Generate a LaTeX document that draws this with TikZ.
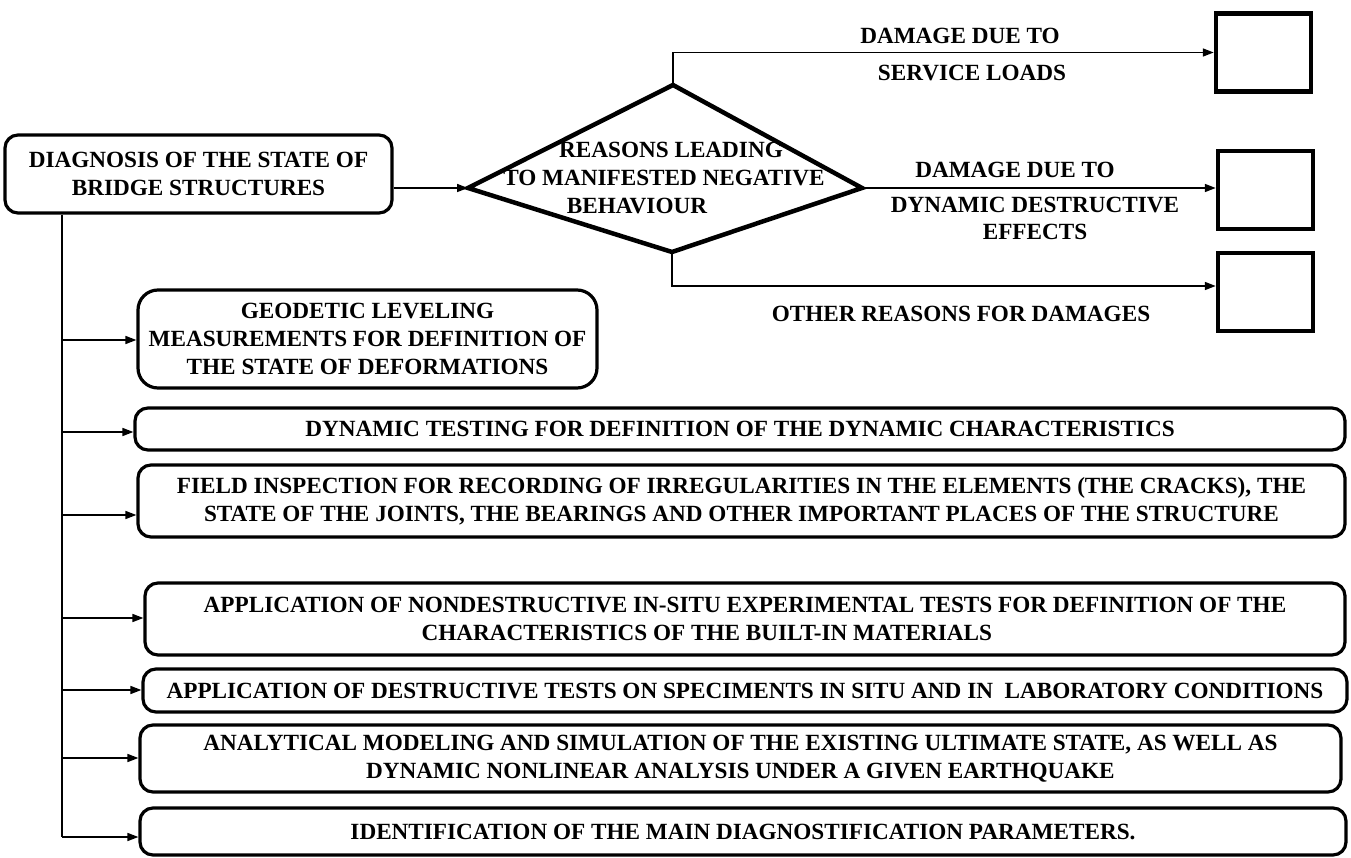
\documentclass[tikz,border=0pt]{standalone}
\usepackage{fontspec}
\setmainfont{Liberation Serif}
\usetikzlibrary{arrows.meta}
\begin{document}
\begin{tikzpicture}[x=1pt,y=-1pt,
  every node/.style={font=\fontsize{23.2}{28}\selectfont\bfseries, inner sep=0pt},
  rbox/.style={draw, line width=3.2pt, rounded corners=13pt, align=center},
  sqbox/.style={draw, line width=4.5pt, minimum width=95pt, minimum height=78pt},
  conn/.style={line width=1.6pt},
  arr/.style={conn, -{Triangle[length=11pt,width=8pt]}},
  diam/.style={line width=4.5pt, line join=miter}]
\useasboundingbox (0,0) rectangle (1351,858);

% main box
\node[rbox, minimum width=387pt, minimum height=78pt] (main) at (198.5,174)
  {DIAGNOSIS OF THE STATE OF\\BRIDGE STRUCTURES};

% diamond
\coordinate (dL) at (468,188);
\coordinate (dT) at (673,85);
\coordinate (dR) at (862,188);
\coordinate (dB) at (672,252);
\draw[diam] (dL) -- (dT) -- (dR) -- (dB) -- cycle;
\node[align=center] (dtext) at (664,178)
  {\hspace*{14pt}REASONS LEADING\\TO MANIFESTED NEGATIVE\\BEHAVIOUR\hspace*{54pt}};

% right boxes
\node[sqbox] (b1) at (1263.5,52.5) {};
\node[sqbox] (b2) at (1265.5,190) {};
\node[sqbox] (b3) at (1265.5,292) {};

\coordinate (y3) at (0,286);
\draw[arr] (main.east |- dL) -- (dL);
\draw[arr] (dT) |- (b1.west);
\draw[arr] (dR) -- (dR -| b2.west);
\draw[arr] (dB) |- (b3.west |- y3);

% branch labels
\node (l1a) at (960,36) {DAMAGE DUE TO};
\node (l1b) at (972,73) {SERVICE LOADS};
\node (l2a) at (1015,170) {DAMAGE DUE TO};
\node (l2b) at (1035,205) {DYNAMIC DESTRUCTIVE};
\node (l2c) at (1035,232) {EFFECTS};
\node (l3a) at (961,314) {OTHER REASONS FOR DAMAGES};

% left boxes
\node[rbox, rounded corners=20pt, minimum width=459pt, minimum height=98pt] (g) at (367.5,339)
  {GEODETIC LEVELING\\MEASUREMENTS FOR DEFINITION OF\\THE STATE OF DEFORMATIONS};
\node[rbox, minimum width=1210pt, minimum height=42pt] (d) at (740,429)
  {DYNAMIC TESTING FOR DEFINITION OF THE DYNAMIC CHARACTERISTICS};
\node[rbox, minimum width=1207pt, minimum height=72pt] (f) at (741.5,501)
  {FIELD INSPECTION FOR RECORDING OF IRREGULARITIES IN THE ELEMENTS (THE CRACKS), THE\\STATE OF THE JOINTS, THE BEARINGS AND OTHER IMPORTANT PLACES OF THE STRUCTURE};
\node[rbox, align=left, minimum width=1200pt, minimum height=72pt] (n) at (745,619)
  {APPLICATION OF NONDESTRUCTIVE IN-SITU EXPERIMENTAL TESTS FOR DEFINITION OF THE\\\hspace*{218pt}CHARACTERISTICS OF THE BUILT-IN MATERIALS};
\node[rbox, minimum width=1204pt, minimum height=43pt] (x) at (745,690.5)
  {APPLICATION OF DESTRUCTIVE TESTS ON SPECIMENTS IN SITU AND IN~ LABORATORY CONDITIONS};
\node[rbox, minimum width=1201pt, minimum height=67pt] (a) at (740.5,758.5)
  {ANALYTICAL MODELING AND SIMULATION OF THE EXISTING ULTIMATE STATE, AS WELL AS\\DYNAMIC NONLINEAR ANALYSIS UNDER A GIVEN EARTHQUAKE};
\node[rbox, minimum width=1206pt, minimum height=47pt] (i) at (743,831.5)
  {IDENTIFICATION OF THE MAIN DIAGNOSTIFICATION PARAMETERS.};

% trunk
\coordinate (tG) at (62,340);
\coordinate (tD) at (62,432);
\coordinate (tF) at (62,515);
\coordinate (tN) at (62,618);
\coordinate (tX) at (62,690);
\coordinate (tA) at (62,758);
\coordinate (tI) at (62,837);
\draw[conn] (main.south -| tI) -- (tI);
\draw[arr] (tG) -- (tG -| g.west);
\draw[arr] (tD) -- (tD -| d.west);
\draw[arr] (tF) -- (tF -| f.west);
\draw[arr] (tN) -- (tN -| n.west);
\draw[arr] (tX) -- (tX -| x.west);
\draw[arr] (tA) -- (tA -| a.west);
\draw[arr] (tI) -- (tI -| i.west);
\end{tikzpicture}
\end{document}
